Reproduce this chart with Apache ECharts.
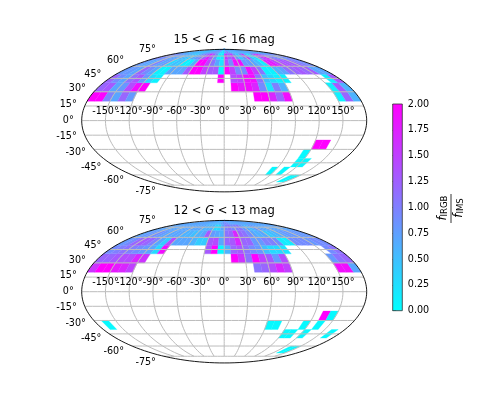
<!DOCTYPE html>
<html>
<head>
<meta charset="utf-8">
<style>
  html, body { margin: 0; padding: 0; background: #fff; }
  #chart { width: 485px; height: 415px; }
</style>
<script src="https://cdn.jsdelivr.net/npm/echarts@6/dist/echarts.min.js"></script>
</head>
<body>
<div id="chart"></div>
<script>
const _ = null;

// ratio per 10 deg lon bin, -180 ... 170; one array per 10 deg lat band (name = lower edge)
const faint20 = [2,2,1,.7,1.2,.8,_,_,_,_,_,_,_,_,_,_,_,_,_,_,_,_,2,2,1.7,1.2,1.9,_,_,_,_,_,_,.1,1.2,.6];
const faint30 = [1.2,1.3,.7,.8,1.4,1.9,2,_,_,_,_,_,_,_,_,_,_,_,_,2,1.8,1.9,1.7,.9,.2,1,.6,_,_,_,_,_,_,.1,1.3,.6];
const faint40 = [1.2,.9,.7,1.1,1.3,.8,.3,.1,_,_,_,_,_,_,_,_,_,2,_,1.4,1.5,1.9,1.9,1.1,.5,.3,.1,.1,_,_,_,_,_,_,.1,1.3];
const faint50 = [.8,.8,.7,1.2,.9,.7,.1,.1,.7,.7,.7,1.3,2,2,1.5,1.3,1.3,.05,2,1.5,.9,.9,1.9,1.5,1.1,.1,.1,.6,.7,1.1,1.2,1.3,1.2,1.3,.7,.7];
const faint60 = [.8,.7,.7,1,.7,.8,.3,.5,.4,.1,.1,.6,2,2,1.5,1.1,.7,.2,1.4,.9,1.9,1.9,.8,.8,.7,.5,.1,1.8,1.8,1.5,1.4,1.3,1.3,1.2,1,.9];
const faint70 = [1,.9,.9,.8,.7,.7,.6,.5,.4,.6,.8,1,1.2,1.7,1.3,.8,.1,.1,1.6,1.2,1.5,.8,.4,.8,1.6,.5,.2,.8,1.4,1.7,1.2,1,.9,.8,.9,.9];
const faint80 = [.7,.7,.6,.6,.6,.5,.5,.5,.5,.6,.7,.8,.8,.9,.8,.7,.3,.2,.6,1.1,.9,.7,.6,.6,.7,.7,.6,.5,.6,.7,.7,.7,.7,.7,.7,.7];

const bright20 = [1.6,2,2,1.8,1.7,1.5,_,_,_,_,_,_,_,_,_,_,_,_,_,_,_,_,1.1,1.2,1.4,1.7,1.5,_,_,_,_,_,_,1.9,1.9,.7];
const bright30 = [1.2,1.2,1.3,1.4,1.4,1.7,1.6,_,_,_,_,_,_,_,_,_,_,_,_,2,1.6,1.1,2,1.5,1.3,.8,1.4,_,_,_,_,_,_,.8,1.1,1.2];
const bright40 = [.9,1,1.1,1,.9,.8,.7,.3,1.9,_,_,_,_,_,_,1.3,2,.05,.6,1.2,1.3,1.1,.9,.8,.5,.3,.3,.2,_,_,_,_,_,_,.9,1.1];
const bright50 = [.8,.9,1.2,1.3,1.2,1,.7,.4,1.4,.7,.7,.7,.6,.4,.4,1.3,1.4,.7,1.2,1.3,1.7,1.2,1.2,.8,.8,1,1,.9,.15,.15,.9,.9,.9,.8,.9,.9];
const bright60 = [.7,.8,.8,.9,.8,.7,.7,.7,.7,.6,.6,.5,.6,.7,1.3,.8,.7,.6,1.1,1.2,1.7,1.2,1.1,.9,.7,.6,.7,.4,.5,.6,.7,.8,.8,.8,.8,.8];
const bright70 = [.7,.7,.7,.7,.7,.7,.7,.7,.7,.7,.7,.7,.6,.6,.6,.3,.3,.7,1,1.1,.9,1,1.1,.8,.7,.5,.8,.8,.7,.7,.7,.7,.7,.7,.7,.7];
const bright80 = [.7,.7,.7,.7,.7,.7,.7,.7,.7,.7,.7,.6,.6,.6,.6,.6,.7,.8,.9,.9,.8,.7,.7,.7,.7,.7,.7,.7,.7,.7,.7,.7,.7,.7,.7,.7];

// southern bins: [lon start, lat start, ratio]
const faintSouth = [[120,-30,2],[130,-30,2],[110,-40,.05],[110,-50,.05],[120,-50,.05],[80,-60,.05],[100,-60,.05],[130,-70,.05],[140,-70,.05]];
const brightSouth = [[-170,-40,.05],[130,-30,2],[140,-30,.05],[60,-40,.05],[70,-40,.05],[110,-40,.05],[130,-40,.05],[90,-50,.05],[100,-50,.05],[120,-50,.05],[160,-50,.05],[130,-70,.05],[140,-70,.05]];

const latStarts = [20, 30, 40, 50, 60, 70, 80];
const lonTicks = [-150, -120, -90, -60, -30, 0, 30, 60, 90, 120, 150];
const latTicks = [-75, -60, -45, -30, -15, 0, 15, 30, 45, 60, 75];
const titles = ['15 < {i|G} < 16 mag', '12 < {i|G} < 13 mag'];

const FONT = '"DejaVu Sans"';
const panels = [
  {top: 49.35, rows: [faint20, faint30, faint40, faint50, faint60, faint70, faint80], south: faintSouth},
  {top: 220.45, rows: [bright20, bright30, bright40, bright50, bright60, bright70, bright80], south: brightSouth}
];
const PANEL_W = 285, PANEL_H = 142.5, PANEL_LEFT = 81.7;

// mollweide, gives x in -2..2 and y in -1..1
function project(lon, lat) {
  const phi = lat * Math.PI / 180;
  let t = phi;
  if (Math.abs(lat) >= 90) {
    t = Math.sign(lat) * Math.PI / 2;
  } else {
    for (let i = 0; i < 60; i++) {
      t -= (2 * t + Math.sin(2 * t) - Math.PI * Math.sin(phi)) / (2 + 2 * Math.cos(2 * t));
    }
  }
  return [2 * (lon / 180) * Math.cos(t), Math.sin(t)];
}

function binsFor(panel) {
  const out = [];
  panel.rows.forEach((row, r) => {
    row.forEach((v, i) => {
      if (v !== null) out.push([-180 + i * 10, latStarts[r], v]);
    });
  });
  return out.concat(panel.south);
}

function graticule() {
  const pts = [];
  latTicks.forEach(lat => {
    for (let lon = -180; lon <= 180; lon += 10) pts.push(project(lon, lat));
    pts.push([null, null]);
  });
  lonTicks.forEach(lon => {
    for (let lat = -75; lat <= 75; lat += 3) pts.push(project(lon, lat));
    pts.push([null, null]);
  });
  return pts;
}

function outline() {
  const pts = [];
  for (let a = 0; a <= 360; a += 2) {
    const r = a * Math.PI / 180;
    pts.push([2 * Math.cos(r), Math.sin(r)]);
  }
  return pts;
}

const renderBin = (params, api) => {
  const lon = api.value(0), lat = api.value(1);
  const corners = [[lon, lat], [lon + 10, lat], [lon + 10, lat + 10], [lon, lat + 10]];
  const color = api.visual('color');
  return {
    type: 'polygon',
    shape: {points: corners.map(c => api.coord(project(c[0], c[1])))},
    style: {fill: color, stroke: color, lineWidth: 0.3}
  };
};

const renderLabel = (params, api) => {
  const p = api.coord([api.value(0), api.value(1)]);
  const kind = api.value(3);
  return {
    type: 'text',
    style: {
      text: api.value(2) + '°',
      x: kind === 0 ? p[0] : p[0] - 8,
      y: kind === 0 ? p[1] - 4 : p[1],
      align: kind === 0 ? 'center' : 'right',
      verticalAlign: kind === 0 ? 'bottom' : 'middle',
      fontFamily: FONT,
      fontSize: 9.6,
      fill: '#000'
    }
  };
};

const lonLabels = lonTicks.map(lon => [project(lon, 0)[0], 0, lon, 0]);
const latLabels = latTicks.map(lat => {
  const p = project(-180, lat);
  return [p[0], p[1] * 1.1, lat, 1];
});

const grids = [], xAxes = [], yAxes = [], series = [], titleList = [];

panels.forEach((panel, n) => {
  grids.push({left: PANEL_LEFT, top: panel.top, width: PANEL_W, height: PANEL_H});
  xAxes.push({type: 'value', gridIndex: n, min: -2, max: 2, show: false});
  yAxes.push({type: 'value', gridIndex: n, min: -1, max: 1, show: false});
  titleList.push({
    text: titles[n],
    left: 224.2,
    top: panel.top - 15,
    textAlign: 'center',
    padding: 0,
    textStyle: {
      fontFamily: FONT, fontSize: 11.5, fontWeight: 'normal', color: '#000',
      rich: {i: {fontFamily: FONT, fontSize: 11.5, fontStyle: 'italic', color: '#000'}}
    }
  });
  series.push({
    type: 'custom', xAxisIndex: n, yAxisIndex: n, coordinateSystem: 'cartesian2d',
    data: binsFor(panel), renderItem: renderBin, silent: true, z: 2, clip: false,
    encode: {x: 0, y: 1}
  });
  series.push({
    type: 'line', xAxisIndex: n, yAxisIndex: n, data: graticule(), showSymbol: false, silent: true, z: 3,
    lineStyle: {color: '#bcbcbc', width: 1}, connectNulls: false, clip: false
  });
  series.push({
    type: 'line', xAxisIndex: n, yAxisIndex: n, data: outline(), showSymbol: false, silent: true, z: 4,
    lineStyle: {color: '#000', width: 0.9}, clip: false
  });
  series.push({
    type: 'custom', xAxisIndex: n, yAxisIndex: n, coordinateSystem: 'cartesian2d',
    data: lonLabels.concat(latLabels), renderItem: renderLabel, silent: true, z: 5, clip: false,
    encode: {x: 0, y: 1}
  });
});

// colorbar
grids.push({left: 392.7, top: 104, width: 9.6, height: 206.7, show: true, borderColor: '#333', borderWidth: 0.8, z: 6});
xAxes.push({type: 'value', gridIndex: 2, min: 0, max: 1, show: false});
yAxes.push({
  type: 'value', gridIndex: 2, min: 0, max: 2, interval: 0.25, position: 'right',
  axisLine: {show: false}, splitLine: {show: false},
  axisTick: {show: true, length: 3.4, lineStyle: {color: '#000', width: 0.8}},
  axisLabel: {fontFamily: FONT, fontSize: 9.6, color: '#000', margin: 5.5, formatter: v => v.toFixed(2)}
});
series.push({
  type: 'custom', xAxisIndex: 2, yAxisIndex: 2, coordinateSystem: 'cartesian2d', data: [[0, 0, 1, 2]], silent: true,
  renderItem: (params, api) => {
    const a = api.coord([api.value(0), api.value(1)]);
    const b = api.coord([api.value(2), api.value(3)]);
    return {
      type: 'rect',
      shape: {x: a[0], y: b[1], width: b[0] - a[0], height: a[1] - b[1]},
      style: {fill: new echarts.graphic.LinearGradient(0, 1, 0, 0, [{offset: 0, color: '#00ffff'}, {offset: 1, color: '#ff00ff'}])}
    };
  }
});

const subRich = {
  f: {fontFamily: FONT, fontStyle: 'italic', fontSize: 11.5, fill: '#000', verticalAlign: 'bottom'},
  s: {fontFamily: FONT, fontSize: 8.5, fill: '#000', verticalAlign: 'bottom'}
};

const chart = echarts.init(document.getElementById('chart'), null, {renderer: 'canvas'});
chart.setOption({
  animation: false,
  backgroundColor: '#fff',
  title: titleList,
  grid: grids,
  xAxis: xAxes,
  yAxis: yAxes,
  visualMap: {
    show: false, type: 'continuous', min: 0, max: 2, dimension: 2, seriesIndex: [0, 4],
    inRange: {color: ['#00ffff', '#ff00ff']}
  },
  series: series,
  graphic: [
    {type: 'text', x: 443.5, y: 208, rotation: Math.PI / 2, silent: true,
      style: {text: '{f|f}{s|IRGB}', rich: subRich, align: 'center', verticalAlign: 'middle'}},
    {type: 'line', silent: true, shape: {x1: 451, y1: 194, x2: 451, y2: 223}, style: {stroke: '#000', lineWidth: 0.8}},
    {type: 'text', x: 459, y: 208, rotation: Math.PI / 2, silent: true,
      style: {text: '{f|f}{s|IMS}', rich: subRich, align: 'center', verticalAlign: 'middle'}}
  ]
});
</script>
</body>
</html>
